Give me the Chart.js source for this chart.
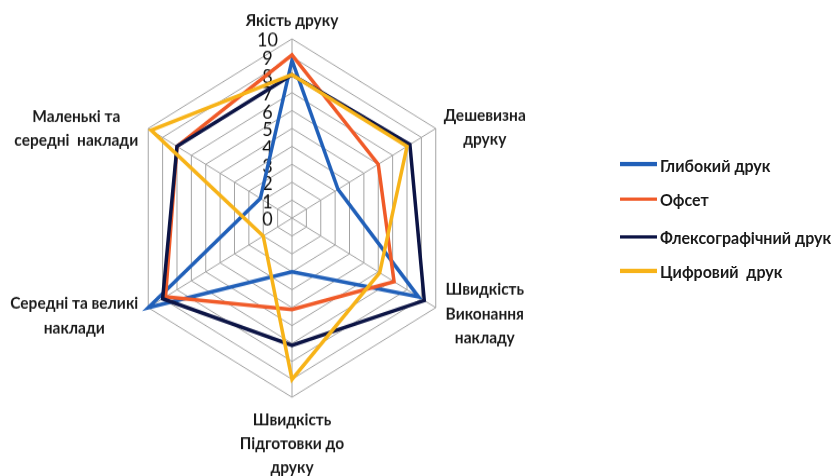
<!DOCTYPE html>
<html>
<head>
<meta charset="utf-8">
<script src="https://cdn.jsdelivr.net/npm/chart.js@4/dist/chart.umd.min.js"></script>
<style>
  html, body { margin: 0; padding: 0; background: #fff; overflow: hidden; }
  #stage {
    position: absolute; left: 0; top: 0; width: 839px; height: 441px;
    transform: scale(1, 1.0794); transform-origin: 0 0;
  }
  #chart { position: absolute; left: 0; top: 0; }
  #legend { position: absolute; left: 620px; top: 0; font-family: Lato, "Open Sans", sans-serif; font-weight: bold; font-size: 16px; color: #1a1a1a; }
  .item { position: absolute; left: 0; height: 20px; margin-top: -10px; display: flex; align-items: center; white-space: pre; }
  .swatch { width: 37px; height: 3.5px; margin-right: 3px; }
</style>
</head>
<body>
<div id="stage">
  <canvas id="chart" width="839" height="441"></canvas>
  <div id="legend"></div>
</div>
<script>
// Axis names, one entry per spoke (each split into the lines it is printed on)
const axisLabels = [
  ['Якість друку'],
  ['Дешевизна', 'друку'],
  ['Швидкість', 'Виконання', 'накладу'],
  ['Швидкість', 'Підготовки до', 'друку'],
  ['Середні та великі', 'наклади'],
  ['Маленькі та', 'середні  наклади']
];

// Scores on a 0–10 scale for every printing method
const seriesNames = ['Глибокий друк', 'Офсет', 'Флексографічний друк', 'Цифровий  друк'];
const gravure  = [8.8, 3.2, 8.8, 3.0, 10.0, 2.2];
const offset   = [9.1, 6.0, 7.1, 5.1, 8.8, 8.0];
const flexo    = [8.0, 8.2, 9.2, 7.1, 9.0, 8.0];
const digital  = [8.0, 8.0, 6.1, 9.0, 2.0, 9.8];

const tickLabels = ['0', '1', '2', '3', '4', '5', '6', '7', '8', '9', '10'];

const colors = ['#2160b9', '#f05a28', '#0c1445', '#f7b318'];
const seriesValues = [gravure, offset, flexo, digital];

// Text around the web: value ticks along the top spoke and the spoke titles
const axisText = {
  id: 'axisText',
  beforeDatasetsDraw(chart) {
    const r = chart.scales.r;
    const ctx = chart.ctx;
    ctx.save();
    ctx.fillStyle = '#111';
    ctx.textAlign = 'center';
    ctx.textBaseline = 'middle';
    ctx.font = '18px Lato, "Open Sans", sans-serif';
    r.ticks.forEach((t, i) => {
      const p = r.getPointPositionForValue(0, t.value);
      ctx.fillText(tickLabels[i], p.x - 24.5, p.y + 1.5);
    });
    ctx.restore();
  },
  afterDraw(chart) {
    const r = chart.scales.r;
    const ctx = chart.ctx;
    const shift = [[0, -17.5], [49, -1], [49, 5.5], [0, 43], [-74, 7.5], [-72, 0]];
    const lh = 22.3;
    ctx.save();
    ctx.fillStyle = '#1a1a1a';
    ctx.textAlign = 'center';
    ctx.textBaseline = 'middle';
    ctx.font = 'bold 15.5px Lato, "Open Sans", sans-serif';
    axisLabels.forEach((lines, i) => {
      const p = r.getPointPositionForValue(i, r.max);
      const cx = p.x + shift[i][0];
      const cy = p.y + shift[i][1];
      lines.forEach((s, k) => {
        ctx.fillText(s, cx, cy + (k - (lines.length - 1) / 2) * lh);
      });
    });
    ctx.restore();
  }
};

new Chart(document.getElementById('chart'), {
  type: 'radar',
  data: {
    labels: axisLabels,
    datasets: seriesNames.map((name, i) => ({
      label: name,
      data: seriesValues[i],
      borderColor: colors[i],
      backgroundColor: colors[i],
      borderWidth: 3.5,
      pointRadius: 0,
      pointHoverRadius: 0,
      fill: false,
      tension: 0,
      order: seriesNames.length - i
    }))
  },
  options: {
    responsive: false,
    animation: false,
    devicePixelRatio: 1,
    layout: { padding: { left: 125, right: 380, top: 36, bottom: 73 } },
    plugins: { legend: { display: false }, tooltip: { enabled: false } },
    scales: {
      r: {
        min: 0,
        max: 10,
        ticks: { stepSize: 1, display: false },
        pointLabels: { display: false },
        grid: { color: '#a3a3a3', lineWidth: 1 },
        angleLines: { color: '#a3a3a3', lineWidth: 1 }
      }
    }
  },
  plugins: [axisText]
});

// Legend to the right of the web
const legend = document.getElementById('legend');
const legendY = [152, 184.5, 219.3, 251.2];
seriesNames.forEach((name, i) => {
  const row = document.createElement('div');
  row.className = 'item';
  row.style.top = legendY[i] + 'px';
  const sw = document.createElement('span');
  sw.className = 'swatch';
  sw.style.background = colors[i];
  const tx = document.createElement('span');
  tx.textContent = name;
  row.appendChild(sw);
  row.appendChild(tx);
  legend.appendChild(row);
});
</script>
</body>
</html>
